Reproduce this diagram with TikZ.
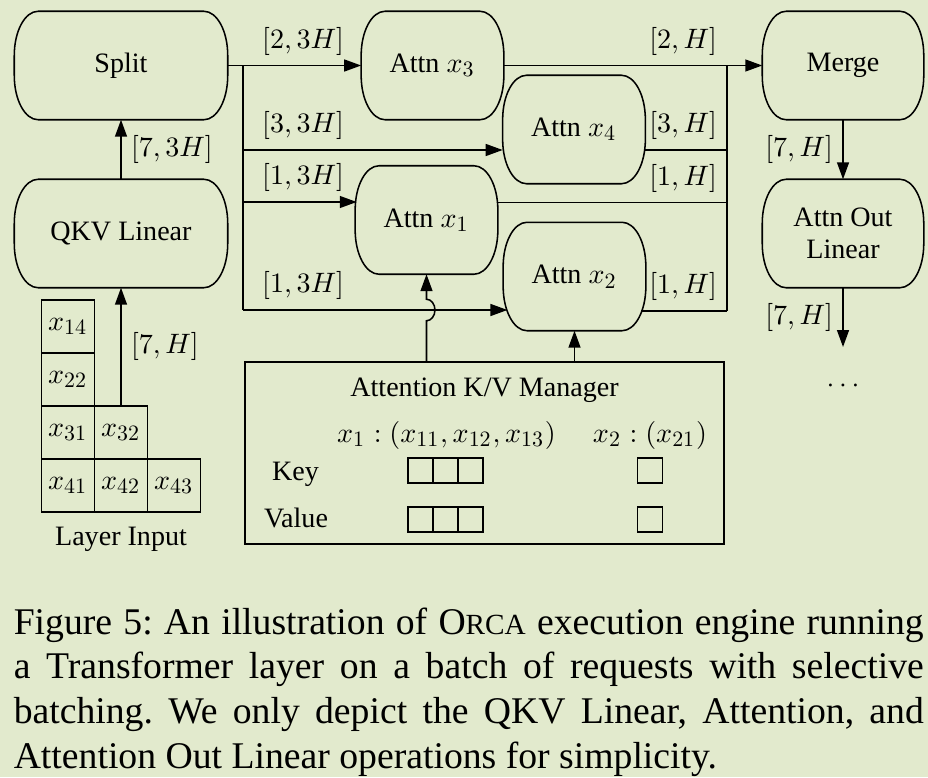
\documentclass[tikz,border=0pt]{standalone}
\usepackage[no-math]{fontspec}
\setmainfont{Liberation Serif}
\DeclareFontFamily{OML}{cmm}{\skewchar\font'177}
\DeclareFontShape{OML}{cmm}{m}{it}{<->cmmi10}{}
\DeclareFontFamily{OT1}{cmr}{\hyphenchar\font45}
\DeclareFontShape{OT1}{cmr}{m}{n}{<->cmr10}{}
\DeclareFontFamily{OMS}{cmsy}{\skewchar\font'60}
\DeclareFontShape{OMS}{cmsy}{m}{n}{<->cmsy10}{}
\DeclareMathSizes{7.3}{7.3}{5.7}{4.4}
\usetikzlibrary{
  positioning,
  arrows.meta
}
\definecolor{bgcol}{RGB}{226,234,205}
\newcommand\diag{\fontsize{7.3}{8.4}\selectfont}
\newcommand\oprx{6.2pt}
\newcommand\opry{11.5pt}
\newcommand\opframe[1]{%
  \draw[opline] ([xshift=\oprx]#1.north west) -- ([xshift=-\oprx]#1.north east)
    arc[start angle=90, end angle=0, x radius=\oprx, y radius=\opry]
    -- ([yshift=\opry]#1.south east)
    arc[start angle=0, end angle=-90, x radius=\oprx, y radius=\opry]
    -- ([xshift=\oprx]#1.south west)
    arc[start angle=270, end angle=180, x radius=\oprx, y radius=\opry]
    -- ([yshift=-\opry]#1.north west)
    arc[start angle=180, end angle=90, x radius=\oprx, y radius=\opry] -- cycle;}
\tikzset{
  >={Triangle[length=4.4pt, width=3.1pt]},
  every node/.style={font=\diag},
  op/.style={inner sep=0pt, minimum height=27.8pt, align=center},
  opline/.style={line width=0.4pt},
  arr/.style={->, line width=0.4pt},
  lbl/.style={inner sep=2.4pt},
  cell/.style={draw, line width=0.4pt, inner sep=0pt, minimum size=13.8pt},
  slot/.style={draw, line width=0.4pt, inner sep=0pt, minimum size=6.5pt}
}
\frenchspacing

\begin{document}
\begin{tikzpicture}[x=0.26pt, y=-0.26pt]
    \path[fill=bgcol] (0,0) rectangle (928,777);

    \node[op, minimum width=55.1pt] (split) at (121,65.5) {Split};
    \node[op, minimum width=55.1pt] (qkv) at (121,233.5) {QKV Linear};
    \node[op, minimum width=36.7pt] (attn3) at (432.5,65.5) {Attn $x_3$};
    \node[op, minimum width=36.7pt] (attn4) at (574,129.5) {Attn $x_4$};
    \node[op, minimum width=36.7pt] (attn1) at (426.5,220) {Attn $x_1$};
    \node[op, minimum width=36.7pt] (attn2) at (574.5,276.5) {Attn $x_2$};
    \node[op, minimum width=41.6pt] (merge) at (843,65.5) {Merge};
    \node[op, minimum width=41.6pt] (outlin) at (843,233.5) {Attn Out\\Linear};
    \foreach \n in {split,qkv,attn3,attn4,attn1,attn2,merge,outlin}
      \opframe{\n};

    \foreach \r/\c/\n in {1/1/14, 2/1/22, 3/1/31, 3/2/32, 4/1/41, 4/2/42, 4/3/43}
      \node[cell] (x\n) at ({68+53*(\c-1)},{326.5+53*(\r-1)}) {$x_{\n}$};
    \node[anchor=base] (layerin) at (121,545) {Layer Input};

    \coordinate (fork) at (243,65.5);
    \coordinate (f4) at (243,150);
    \coordinate (f1) at (243,202);
    \coordinate (f2) at (243,310);
    \coordinate (j3) at (727,65.5);
    \coordinate (j4) at (727,150);
    \coordinate (j1) at (727,202.5);
    \coordinate (j2) at (727,311);
    \coordinate (outend) at (843,347);

    \draw[arr] (x32) -- (qkv) node[lbl, midway, right] {$[7,H]$};
    \draw[arr] (qkv) -- (split) node[lbl, midway, right] {$[7,3H]$};

    \draw[arr] (split.east) -- (attn3.west);
    \draw[opline] (fork) -- (f2);
    \draw[arr] (f4) -- (f4 -| attn4.west);
    \draw[arr] (f1) -- ([xshift=0.4pt]f1 -| attn1.west);
    \draw[arr] (f2) -- ([xshift=1.1pt]f2 -| attn2.west);
    \node[lbl, anchor=south west, xshift=2.4pt] at (fork) {$[2,3H]$};
    \node[lbl, anchor=south west, xshift=2.4pt] at (f4) {$[3,3H]$};
    \node[lbl, anchor=south west, xshift=2.4pt] at (f1) {$[1,3H]$};
    \node[lbl, anchor=south west, xshift=2.4pt] at (f2) {$[1,3H]$};

    \draw[arr] (attn3.east) -- (merge.west);
    \draw[opline] (j3) -- (j2);
    \draw[opline] (j4 -| attn4.east) -- (j4);
    \draw[opline] ([xshift=-0.3pt]j1 -| attn1.east) -- (j1);
    \draw[opline] ([xshift=-1.2pt]j2 -| attn2.east) -- (j2);
    \node[lbl, anchor=south east] at (j3) {$[2,H]$};
    \node[lbl, anchor=south east] at (j4) {$[3,H]$};
    \node[lbl, anchor=south east] at (j1) {$[1,H]$};
    \node[lbl, anchor=south east] at (j2) {$[1,H]$};

    \draw[arr] (merge) -- (outlin) node[lbl, midway, left] {$[7,H]$};
    \draw[arr] (outlin) -- (outend) node[lbl, midway, left] {$[7,H]$};
    \node[anchor=base] (more) at (843,392) {$\cdots$};

    \node[draw, line width=0.4pt, inner sep=0pt, minimum width=124.5pt, minimum height=47.3pt] (kv) at (484.5,453) {};
    \node[anchor=base] (kvtitle) at (484.5,396) {Attention K/V Manager};
    \node[anchor=base] (seq1) at (446.5,442) {$x_1:(x_{11},x_{12},x_{13})$};
    \node[anchor=base] (seq2) at (650,442) {$x_2:(x_{21})$};
    \node[anchor=base] (keylab) at (295.5,480) {Key};
    \node[anchor=base] (vallab) at (296,527) {Value};
    \foreach \i in {0,1,2} {
      \node[slot] (key\i) at ({420.5+25*\i},470.5) {};
      \node[slot] (val\i) at ({420.5+25*\i},519.5) {};
    }
    \node[slot] (key3) at (650,470.5) {};
    \node[slot] (val3) at (650,519.5) {};

    \coordinate (hop) at (attn1 |- f2);
    \draw[arr] (kv.north -| attn1) -- ([yshift=-2.8pt]hop)
      arc[start angle=-90, end angle=90, x radius=2.2pt, y radius=2.8pt] -- (attn1.south);
    \draw[arr] (kv.north -| attn2) -- (attn2.south);

    \node[anchor=north west, inner sep=0pt, text width=236.6pt, align=justify,
      font=\fontsize{9.8}{11.6}\selectfont] (caption) at (13,607)
      {Figure 5: An illustration of O{\fontsize{7.6}{9}\selectfont RCA} execution engine running\linebreak
       a Transformer layer on a batch of requests with selective\linebreak
       batching. We only depict the QKV Linear, Attention, and\linebreak
       Attention Out Linear operations for simplicity.};
  \end{tikzpicture}
\end{document}
